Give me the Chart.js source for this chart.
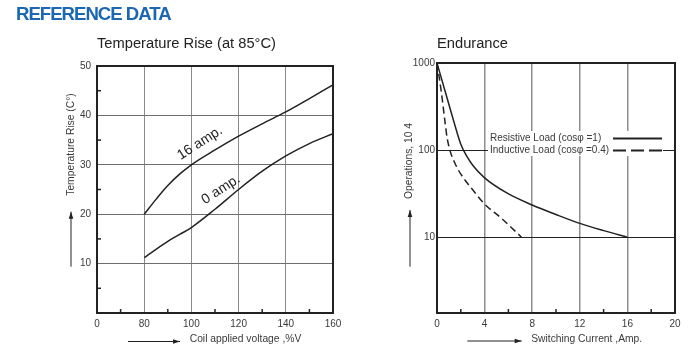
<!DOCTYPE html>
<html><head><meta charset="utf-8">
<script src="https://cdn.jsdelivr.net/npm/chart.js@4/dist/chart.umd.min.js"></script>
<style>
html,body{margin:0;padding:0;background:#fff;}
body{width:695px;height:356px;position:relative;overflow:hidden;font-family:"Liberation Sans",Arial,sans-serif;}
#hdr{position:absolute;left:16px;top:5px;font-size:18.6px;line-height:1;font-weight:bold;color:#1b67b3;letter-spacing:-1px;white-space:nowrap;z-index:2;}
canvas{position:absolute;top:0;}
#c1{left:0;} #c2{left:360px;}
</style></head><body>
<div id="hdr">REFERENCE DATA</div>
<canvas id="c1" width="360" height="356" style="width:360px;height:356px"></canvas>
<canvas id="c2" width="335" height="356" style="width:335px;height:356px"></canvas>
<script>
// ---------- data: Temperature Rise ----------
const voltage = [80, 85, 90, 95, 100, 110, 120, 130, 140, 150, 160];
const rise16A = [20, 23, 25.8, 28.1, 30, 33, 35.8, 38.3, 40.7, 43.4, 46.2];
const rise0A  = [11.2, 12.9, 14.5, 15.9, 17.3, 21.0, 25.0, 28.7, 31.8, 34.3, 36.3];
// broken axis: the first position is labelled "0"
const voltageTicks = [60, 80, 100, 120, 140, 160];
const voltageTickLabels = ['0', '80', '100', '120', '140', '160'];
const riseTicks = [0, 10, 20, 30, 40, 50];
const voltageMinor = [70, 90, 110, 130, 150];
const riseMinor = [5, 15, 25, 35, 45];

// ---------- data: Endurance ----------
const resistiveCurrent = [0, 0.75, 1.45, 2, 2.5, 3, 4, 5.9, 8, 10, 12, 14, 16];
const resistiveOps     = [1000, 440, 205, 117, 85, 67, 48, 32, 23.4, 18.2, 14.4, 11.9, 10];
const inductiveCurrent = [0, 0.36, 0.63, 0.84, 1.1, 1.5, 2, 3, 4, 5.3, 6.2, 7.1];
const inductiveOps     = [1000, 470, 235, 141, 98, 71, 53, 35, 24, 17, 13.1, 10];
const currentTicks = [0, 4, 8, 12, 16, 20];
const currentMinor = [2, 6, 10, 14, 18];
const opsTicks = [10, 100, 1000];

const FONT = '"Liberation Sans", Arial, sans-serif';
const INK = '#222';
const TXT = '#3a3a3a';
const NONE = 'rgba(0,0,0,0)';

function arrow(ctx, x1, y1, x2, y2) {
  ctx.save();
  ctx.strokeStyle = INK; ctx.fillStyle = INK; ctx.lineWidth = 1;
  ctx.beginPath(); ctx.moveTo(x1, y1); ctx.lineTo(x2, y2); ctx.stroke();
  const a = Math.atan2(y2 - y1, x2 - x1), L = 7, W = 2.3;
  ctx.beginPath(); ctx.moveTo(x2, y2);
  ctx.lineTo(x2 - L * Math.cos(a) + W * Math.sin(a), y2 - L * Math.sin(a) - W * Math.cos(a));
  ctx.lineTo(x2 - L * Math.cos(a) - W * Math.sin(a), y2 - L * Math.sin(a) + W * Math.cos(a));
  ctx.closePath(); ctx.fill();
  ctx.restore();
}

const decor = {
  id: 'decor',
  afterDatasetsDraw(chart, args, o) {
    const ctx = chart.ctx, a = chart.chartArea, sx = chart.scales.x, sy = chart.scales.y;
    ctx.save();
    // minor ticks
    ctx.strokeStyle = INK; ctx.lineWidth = 1.5;
    (o.minorX || []).forEach(v => {
      const px = sx.getPixelForValue(v);
      ctx.beginPath(); ctx.moveTo(px, a.bottom); ctx.lineTo(px, a.bottom - 4); ctx.stroke();
    });
    (o.minorY || []).forEach(v => {
      const py = sy.getPixelForValue(v);
      ctx.beginPath(); ctx.moveTo(a.left, py); ctx.lineTo(a.left + 4, py); ctx.stroke();
    });
    // legend (white box over grid)
    if (o.legend) {
      const L = o.legend;
      ctx.fillStyle = '#fff';
      ctx.fillRect(L.box[0], L.box[1], L.box[2], L.box[3]);
      ctx.font = `10px ${FONT}`; ctx.fillStyle = TXT; ctx.textAlign = 'left'; ctx.textBaseline = 'middle';
      chart.data.datasets.forEach((ds, i) => {
        const y = L.rows[i];
        ctx.fillText(ds.label, L.textX, y);
        ctx.save();
        ctx.strokeStyle = ds.borderColor; ctx.lineWidth = 2;
        ctx.setLineDash(ds.borderDash ? L.dash : []);
        ctx.beginPath(); ctx.moveTo(L.lineX[0], y + 0.5); ctx.lineTo(L.lineX[1], y + 0.5); ctx.stroke();
        ctx.restore();
      });
    }
    // frame
    ctx.strokeStyle = INK; ctx.lineWidth = 2;
    ctx.strokeRect(a.left, a.top, a.right - a.left, a.bottom - a.top);
    // curve labels
    (o.curveLabels || []).forEach(l => {
      ctx.save();
      ctx.translate(sx.getPixelForValue(l.x), sy.getPixelForValue(l.y));
      ctx.rotate(l.angle * Math.PI / 180);
      ctx.font = `14px ${FONT}`; ctx.fillStyle = INK; ctx.textAlign = 'center'; ctx.textBaseline = 'middle';
      ctx.fillText(l.text, 0, 0);
      ctx.restore();
    });
    // chart title
    ctx.font = `14.7px ${FONT}`; ctx.fillStyle = INK; ctx.textAlign = 'left'; ctx.textBaseline = 'middle';
    ctx.fillText(o.title, a.left, o.titleY);
    // axis titles
    ctx.font = `10.3px ${FONT}`; ctx.fillStyle = TXT; ctx.textAlign = 'center'; ctx.textBaseline = 'middle';
    ctx.fillText(o.xTitle.text, o.xTitle.x, o.xTitle.y);
    ctx.save();
    ctx.translate(o.yTitle.x, o.yTitle.y); ctx.rotate(-Math.PI / 2);
    ctx.fillText(o.yTitle.text, 0, 0);
    ctx.restore();
    // arrows
    arrow(ctx, o.xArrow[0], o.xArrow[1], o.xArrow[2], o.xArrow[3]);
    arrow(ctx, o.yArrow[0], o.yArrow[1], o.yArrow[2], o.yArrow[3]);
    ctx.restore();
  }
};

const tickFont = { family: FONT, size: 10 };
const lineStyle = { borderColor: INK, borderWidth: 1.5, pointRadius: 0, fill: false, cubicInterpolationMode: 'monotone' };

// ---------- Temperature Rise ----------
new Chart(document.getElementById('c1'), {
  type: 'line',
  data: {
    datasets: [
      Object.assign({ label: '16 amp.', data: voltage.map((v, i) => ({ x: v, y: rise16A[i] })) }, lineStyle),
      Object.assign({ label: '0 amp.', data: voltage.map((v, i) => ({ x: v, y: rise0A[i] })) }, lineStyle)
    ]
  },
  options: {
    responsive: false, animation: false,
    layout: { padding: { left: 0, top: 66, right: 27, bottom: 0 } },
    plugins: {
      legend: { display: false }, tooltip: { enabled: false }, title: { display: false },
      decor: {
        minorX: voltageMinor, minorY: riseMinor,
        curveLabels: [
          { text: '16 amp.', x: 103.6, y: 34.4, angle: -33 },
          { text: '0 amp.', x: 112.5, y: 25.0, angle: -33 }
        ],
        title: 'Temperature Rise (at 85°C)', titleY: 44,
        xTitle: { text: 'Coil applied voltage ,%V', x: 245.5, y: 339 },
        yTitle: { text: 'Temperature Rise (C°)', x: 71.5, y: 144.5 },
        xArrow: [128, 341.5, 180, 341.5],
        yArrow: [71, 266.7, 71, 211.7]
      }
    },
    scales: {
      x: {
        type: 'linear', min: 60, max: 160,
        afterBuildTicks: s => { s.ticks = voltageTicks.map(v => ({ value: v })); },
        afterFit: s => { s.height = 43; },
        ticks: { callback: (v, i) => voltageTickLabels[i], padding: 5, font: tickFont, color: TXT, maxRotation: 0, autoSkip: false },
        grid: { drawTicks: false, lineWidth: 1, color: c => (c.tick && (c.tick.value === 60 || c.tick.value === 160)) ? NONE : '#8a8a8a' },
        border: { display: false }
      },
      y: {
        type: 'linear', min: 0, max: 50,
        afterBuildTicks: s => { s.ticks = riseTicks.map(v => ({ value: v })); },
        afterFit: s => { s.width = 97; },
        ticks: { callback: v => v === 0 ? '' : String(v), padding: 6, font: tickFont, color: TXT, autoSkip: false },
        grid: { drawTicks: false, lineWidth: 1, color: c => (c.tick && (c.tick.value === 0 || c.tick.value === 50)) ? NONE : '#6e6e6e' },
        border: { display: false }
      }
    }
  },
  plugins: [decor]
});

// ---------- Endurance ----------
new Chart(document.getElementById('c2'), {
  type: 'line',
  data: {
    datasets: [
      Object.assign({ label: 'Resistive Load (cosφ =1)', data: resistiveCurrent.map((v, i) => ({ x: v, y: resistiveOps[i] })) }, lineStyle),
      Object.assign({ label: 'Inductive Load (cosφ =0.4)', data: inductiveCurrent.map((v, i) => ({ x: v, y: inductiveOps[i] })) }, lineStyle, { borderDash: [7, 4] })
    ]
  },
  options: {
    responsive: false, animation: false,
    layout: { padding: { left: 0, top: 63, right: 20, bottom: 0 } },
    plugins: {
      legend: { display: false }, tooltip: { enabled: false }, title: { display: false },
      decor: {
        minorX: currentMinor,
        legend: { box: [128, 131, 175, 25], textX: 130, rows: [138, 150], lineX: [253, 302], dash: [13, 5] },
        title: 'Endurance', titleY: 44,
        xTitle: { text: 'Switching Current ,Amp.', x: 226.7, y: 339.3 },
        yTitle: { text: 'Operations, 10 4', x: 49.5, y: 161 },
        xArrow: [107.3, 341, 161.7, 341],
        yArrow: [50, 266.7, 50, 210]
      }
    },
    scales: {
      x: {
        type: 'linear', min: 0, max: 20,
        afterBuildTicks: s => { s.ticks = currentTicks.map(v => ({ value: v })); },
        afterFit: s => { s.height = 43; },
        ticks: { callback: v => String(v), padding: 5, font: tickFont, color: TXT, maxRotation: 0, autoSkip: false },
        grid: { drawTicks: false, lineWidth: 1.5, color: c => (c.tick && (c.tick.value === 0 || c.tick.value === 20)) ? NONE : '#8f8f8f' },
        border: { display: false }
      },
      y: {
        type: 'logarithmic', min: 1.347, max: 1000,
        afterBuildTicks: s => { s.ticks = opsTicks.map(v => ({ value: v })); },
        afterFit: s => { s.width = 77; },
        ticks: { callback: v => String(v), padding: 2, font: tickFont, color: TXT, autoSkip: false },
        grid: { drawTicks: false, lineWidth: 1, color: c => (c.tick && c.tick.value === 1000) ? NONE : INK },
        border: { display: false }
      }
    }
  },
  plugins: [decor]
});
</script>
</body></html>
